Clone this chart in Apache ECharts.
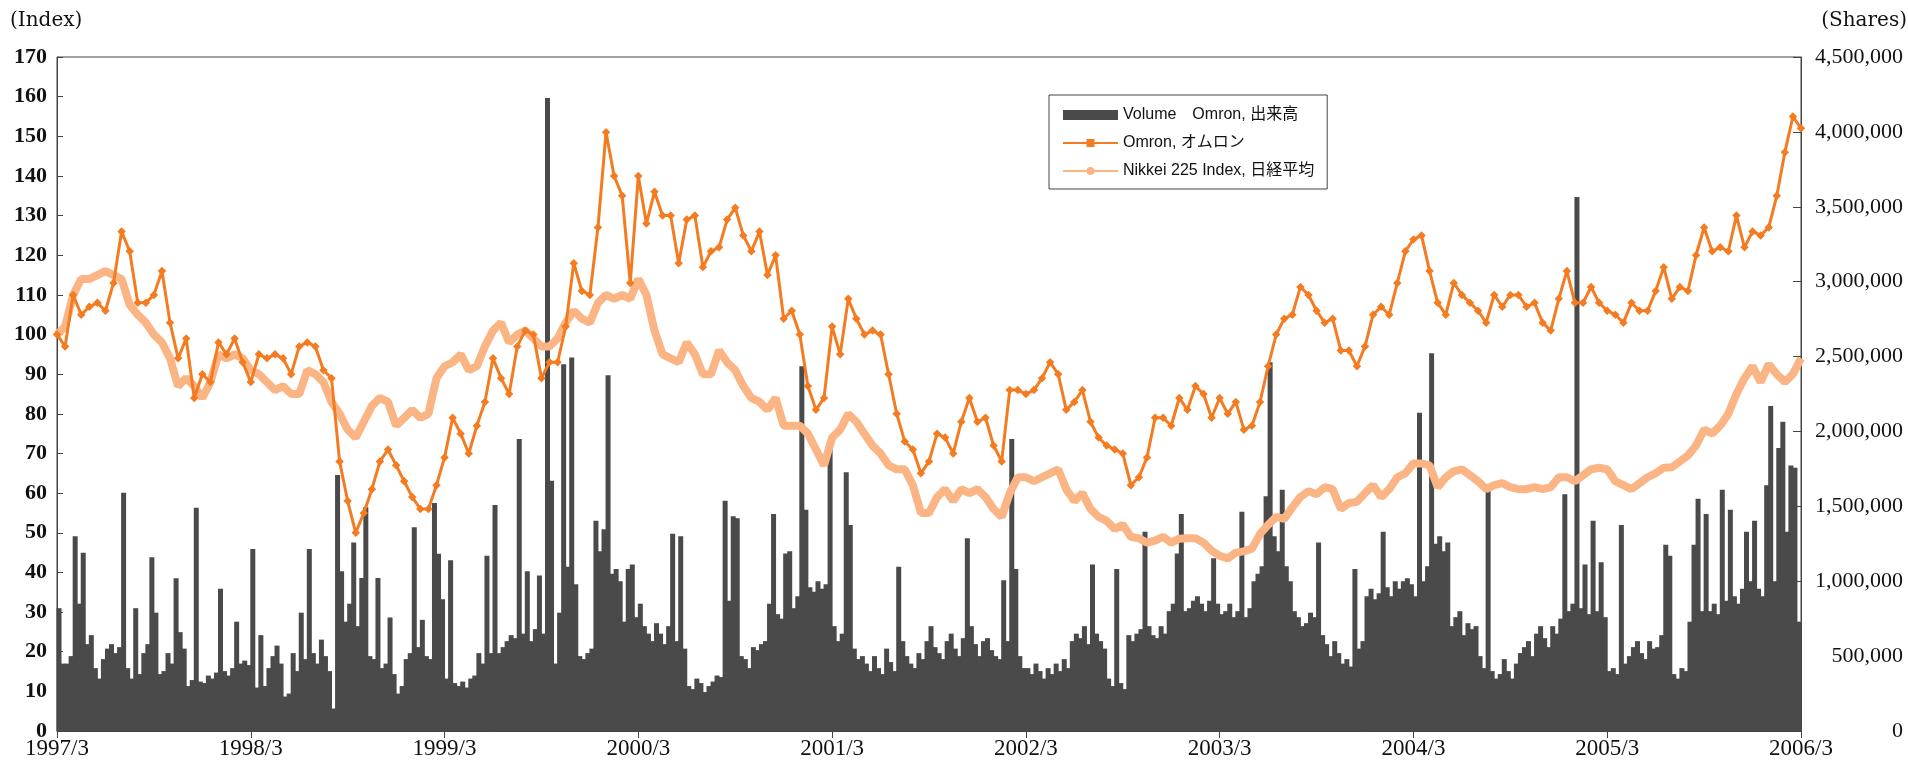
<!DOCTYPE html>
<html>
<head>
<meta charset="utf-8">
<script src="https://cdn.jsdelivr.net/npm/echarts@6/dist/echarts.min.js"></script>
<style>
  html, body { margin: 0; padding: 0; background: #fff; }
  #chart { width: 1908px; height: 764px; }
</style>
</head>
<body>
<div id="chart"></div>
<script>
// x positions are months counted from 1997/3
var startYear = 1997;

// Omron share price, index (1997/3 = 100), one value every half month
var omron = [
  100, 97, 110, 105, 107, 108, 106, 113, 126, 121, 108, 108, 110, 116, 103, 94, 99, 84, 90, 88, 98, 95, 99, 93,
  88, 95, 94, 95, 94, 90, 97, 98, 97, 91, 89, 68, 58, 50, 55, 61, 68, 71, 67, 63, 59, 56, 56, 62,
  69, 79, 75, 70, 77, 83, 94, 89, 85, 97, 101, 100, 89, 93, 93, 102, 118, 111, 110, 127, 151, 140, 135, 113,
  140, 128, 136, 130, 130, 118, 129, 130, 117, 121, 122, 129, 132, 125, 121, 126, 115, 120, 104, 106, 100, 87, 81, 84,
  102, 95, 109, 104, 100, 101, 100, 90, 80, 73, 71, 65, 68, 75, 74, 70, 78, 84, 78, 79, 72, 68, 86, 86,
  85, 86, 89, 93, 90, 81, 83, 86, 78, 74, 72, 71, 70, 62, 64, 69, 79, 79, 77, 84, 81, 87, 85, 79,
  84, 80, 83, 76, 77, 83, 92, 100, 104, 105, 112, 110, 106, 103, 104, 96, 96, 92, 97, 105, 107, 105, 113, 121,
  124, 125, 116, 108, 105, 113, 110, 108, 106, 103, 110, 107, 110, 110, 107, 108, 103, 101, 109, 116, 108, 108, 112, 108,
  106, 105, 103, 108, 106, 106, 111, 117, 109, 112, 111, 120, 127, 121, 122, 121, 130, 122, 126, 125, 127, 135, 146, 155, 152
];

// Nikkei 225, index (1997/3 = 100), one value every half month
var nikkei = [
  100, 102, 110, 114, 114, 115, 116, 115, 114, 107.5, 105, 103, 100, 98, 94, 87, 89, 87, 84, 88, 95, 94, 95, 94,
  91, 90, 88, 86, 87, 85, 85, 91, 90, 88, 83, 80, 76, 74, 78, 82, 84, 83, 77, 79, 81, 79, 80, 89,
  92, 93, 95, 91, 92, 97, 101, 103, 98, 100, 101, 99, 97, 97, 99, 103, 106, 104, 103, 108, 110, 109, 110, 109,
  114, 110, 101, 95, 94, 93, 98, 95, 90, 90, 96, 93, 91, 87, 84, 83, 81, 84, 77, 77, 77, 75, 71, 67,
  74, 76, 80, 78, 75, 72, 70, 67, 66, 66, 62, 55, 55, 59, 61, 58, 61, 60, 61, 59, 56, 54, 60, 64,
  64, 63, 64, 65, 66, 61, 58, 60, 56, 54, 53, 51, 52, 49, 48.6, 47.5, 48, 49, 47.5, 48.5, 48.6, 48.6, 47.5, 45.5,
  44.2, 43.5, 45, 45.3, 46, 49.7, 52, 54, 53.5, 56.4, 59, 60.5, 59.7, 61.5, 61, 56, 57.5, 57.8, 60, 62, 59, 61, 64, 65,
  67.5, 67.5, 67, 61.5, 64, 65.5, 66, 64.5, 63, 61, 62, 62.5, 61.5, 61, 61, 61.5, 61, 61.5, 64, 64, 63, 64.5, 66, 66.4,
  66, 63, 62, 61, 62.5, 64, 65, 66.4, 66.5, 68, 69.5, 72, 76, 75, 77, 80, 85, 89, 92, 88, 92.5, 90, 88, 90, 94
];

// Omron volume, thousand shares, one value per quarter month
var volume = [
  820,450,450,500, 1300,850,1190,580, 640,420,350,480, 550,580,520,560, 1590,420,350,820, 380,520,580,1160,
  790,380,400,520, 450,1020,660,550, 300,340,1490,330, 320,370,350,390, 950,400,370,420, 730,450,470,440,
  1215,290,640,300, 420,500,570,450, 230,250,520,400, 790,480,1215,520, 450,610,500,400, 150,1710,1067,730,
  850,1258,700,1022, 1494,500,480,1022, 420,450,758,380, 250,300,480,520, 1361,560,742,500, 480,1523,1184,880,
  350,1140,320,300, 330,290,350,370, 520,450,1170,520, 1509,520,560,600, 640,620,1949,650, 1067,600,680,1038,
  650,4227,1670,450, 790,2448,1097,2493, 980,500,480,520, 550,1403,1200,1347, 2375,1050,1082,1000, 730,1082,1111,760,
  850,700,650,600, 720,650,580,700, 1317,600,1300,550, 300,280,350,320, 260,300,330,370, 360,1537,870,1434,
  1420,500,480,420, 560,540,580,600, 850,1449,780,750, 1185,1200,820,900, 2435,1478,960,930, 1000,950,980,1890,
  700,600,650,1728, 1376,550,480,500, 450,400,500,420, 380,550,460,400, 1097,600,500,450, 420,520,480,600,
  700,560,520,480, 600,650,550,500, 620,1287,700,580, 500,600,620,540, 500,480,1006,600, 1949,1082,500,420,
  420,380,450,400, 350,420,380,450, 400,480,420,600, 650,620,700,580, 1111,650,600,550, 350,300,1082,320,
  280,640,600,650, 680,1331,700,640, 620,700,650,800, 850,1185,1449,800, 820,870,900,850, 800,870,1154,850,
  780,800,850,760, 800,1464,760,820, 1000,1050,1100,1567, 2462,1300,1200,1610, 1100,1000,800,760, 700,720,790,760,
  1258,640,580,500, 600,520,450,480, 430,1082,550,600, 900,950,880,920, 1331,960,900,1000, 950,1000,1020,980,
  900,2125,1000,1100, 2522,1250,1300,1200, 1258,700,760,800, 640,720,680,700, 500,420,1610,400, 350,380,480,400,
  350,450,520,560, 600,500,650,700, 620,560,700,650, 750,1580,800,850, 3565,820,1111,780, 1403,800,1126,760,
  400,420,380,1376, 450,500,560,600, 520,480,600,550, 560,640,1244,1170, 380,350,420,400, 730,1244,1551,800,
  1449,800,850,780, 1610,870,1478,900, 850,950,1331,1000, 1403,950,900,1641, 2170,1000,1890,2065, 1331,1773,1757,730
];

var names = ['Volume\u3000Omron, 出来高', 'Omron, オムロン', 'Nikkei 225 Index, 日経平均'];
var colors = { volume: '#4a4a4a', omron: '#f47b20', nikkei: '#fbb584' };

var serif = "'Liberation Serif', 'DejaVu Serif', serif";
var wideSerif = "'DejaVu Serif', serif";
var sans = "'Liberation Sans', Arial, 'Noto Sans CJK JP', sans-serif";

var omronData = omron.map(function (v, i) { return [i * 0.5, v]; });
var nikkeiData = nikkei.map(function (v, i) { return [i * 0.5, v]; });
var volumeData = volume.map(function (v, i) { return [i * 0.25 + 0.125, v * 1000]; });

var chart = echarts.init(document.getElementById('chart'));

var option = {
    animation: false,
    backgroundColor: '#fff',
    grid: {
        left: 57, right: 107, top: 57, bottom: 33,
        show: true, borderColor: '#444', borderWidth: 1
    },
    graphic: [
        { type: 'text', left: 10, top: 11, style: { text: '(Index)', font: '20px ' + wideSerif, fill: '#111' } },
        { type: 'text', right: 1, top: 11, style: { text: '(Shares)', font: '20px ' + wideSerif, fill: '#111' } }
    ],
    legend: {
        orient: 'vertical',
        left: 1049, top: 95,
        padding: [12, 13, 10, 13],
        itemGap: 12,
        itemWidth: 55, itemHeight: 10,
        borderColor: '#444', borderWidth: 1,
        backgroundColor: '#fff',
        textStyle: { fontFamily: sans, fontSize: 16, color: '#111' },
        lineStyle: { width: 2 },
        data: [
            { name: names[0], icon: 'rect' },
            { name: names[1], symbolRotate: 0 },
            { name: names[2] }
        ]
    },
    xAxis: {
        type: 'value',
        min: 0, max: 108, interval: 12,
        axisLine: { show: true, lineStyle: { color: '#444' } },
        axisTick: { show: true, inside: false, length: 7, lineStyle: { color: '#444' } },
        splitLine: { show: false },
        axisLabel: {
            margin: 6,
            fontFamily: serif, fontSize: 23, color: '#111',
            formatter: function (v) { return (startYear + v / 12) + '/3'; }
        }
    },
    yAxis: [
        {
            type: 'value',
            min: 0, max: 170, interval: 10,
            position: 'left',
            axisLine: { show: true, lineStyle: { color: '#444' } },
            axisTick: { show: true, inside: true, length: 6, lineStyle: { color: '#444' } },
            splitLine: { show: false },
            axisLabel: { margin: 10, fontFamily: serif, fontSize: 22, fontWeight: 'bold', color: '#111' }
        },
        {
            type: 'value',
            min: 0, max: 4500000, interval: 500000,
            position: 'right',
            axisLine: { show: true, lineStyle: { color: '#444' } },
            axisTick: { show: true, inside: true, length: 8, lineStyle: { color: '#444' } },
            splitLine: { show: false },
            axisLabel: {
                margin: 102, align: 'right',
                fontFamily: serif, fontSize: 22, color: '#111',
                formatter: function (v) { return v.toLocaleString('en-US'); }
            }
        }
    ],
    series: [
        {
            name: names[0],
            type: 'bar',
            yAxisIndex: 1,
            data: volumeData,
            barWidth: 5,
            itemStyle: { color: colors.volume },
            z: 1
        },
        {
            name: names[2],
            type: 'line',
            data: nikkeiData,
            symbol: 'none',
            lineStyle: { width: 8, color: colors.nikkei },
            itemStyle: { color: colors.nikkei },
            z: 2
        },
        {
            name: names[1],
            type: 'line',
            data: omronData,
            symbol: 'rect',
            symbolSize: 6,
            symbolRotate: 45,
            showAllSymbol: true,
            lineStyle: { width: 3, color: colors.omron },
            itemStyle: { color: colors.omron },
            z: 3
        }
    ]
};

chart.setOption(option);
</script>
</body>
</html>
